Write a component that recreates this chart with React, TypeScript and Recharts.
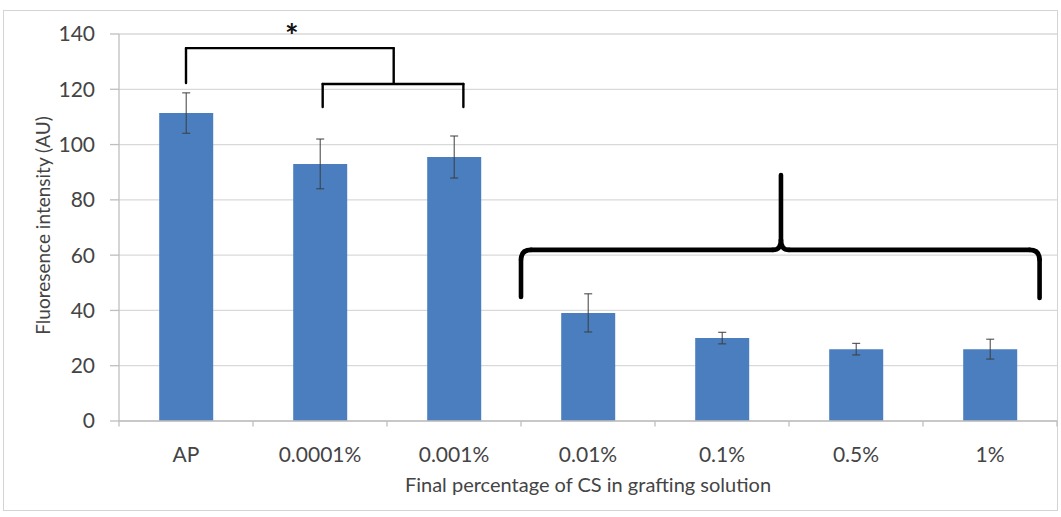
import React from 'react';
import {
  ComposedChart,
  Bar,
  XAxis,
  YAxis,
  CartesianGrid,
  ErrorBar,
  ReferenceLine,
  ReferenceDot,
} from 'recharts';

const categories = ['AP', '0.0001%', '0.001%', '0.01%', '0.1%', '0.5%', '1%'];
const means = [111.4, 93.0, 95.5, 39.1, 30.0, 26.0, 26.0];
const errors = [7.3, 9.0, 7.6, 6.9, 2.1, 2.1, 3.6];
const yTicks = [0, 20, 40, 60, 80, 100, 120, 140];
const boundaryTicks = [-0.5, 0.5, 1.5, 2.5, 3.5, 4.5, 5.5, 6.5];

// significance bracket pieces, in (category index, value) units
const smallBracket: [number, number, number, number][] = [
  [0, 122.3, 0, 134.9],
  [0, 134.9, 1.55, 134.9],
  [1.55, 134.9, 1.55, 122.3],
  [1.02, 113.6, 1.02, 121.9],
  [1.02, 121.9, 2.07, 121.9],
  [2.07, 121.9, 2.07, 113.6],
];
const starPos = { x: 0.79, y: 141 };

// curly brace pieces: kind l = line, vh = vertical then horizontal, hv = horizontal then vertical
const bracePieces: { k: string; p: [number, number, number, number] }[] = [
  { k: 'l', p: [2.5, 44.9, 2.5, 58.3] },
  { k: 'vh', p: [2.5, 58.3, 2.575, 61.9] },
  { k: 'l', p: [2.575, 61.9, 4.38, 61.9] },
  { k: 'hv', p: [4.38, 61.9, 4.44, 65.5] },
  { k: 'l', p: [4.44, 65.5, 4.44, 89.0] },
  { k: 'vh', p: [4.44, 65.5, 4.5, 61.9] },
  { k: 'l', p: [4.5, 61.9, 6.295, 61.9] },
  { k: 'hv', p: [6.295, 61.9, 6.37, 58.3] },
  { k: 'l', p: [6.37, 58.3, 6.37, 44.5] },
];

const data = categories.map((name, i) => ({ name, idx: i, value: means[i], err: errors[i] }));

const FONT = 'Lato, "Open Sans", sans-serif';
const TEXT = '#444444';
const BAR = '#4a7ebf';

const curveShape = (kind: string, width: number) => (props: any) => {
  const { x1, y1, x2, y2 } = props;
  let d = `M${x1},${y1} L${x2},${y2}`;
  if (kind === 'vh') d = `M${x1},${y1} Q${x1},${y2} ${x2},${y2}`;
  if (kind === 'hv') d = `M${x1},${y1} Q${x2},${y1} ${x2},${y2}`;
  return <path d={d} fill="none" stroke="#000" strokeWidth={width} strokeLinecap="round" />;
};

export default function App() {
  return (
    <div style={{ position: 'absolute', left: 0, top: 0, width: 1061, height: 517, background: '#fff' }}>
      <div
        style={{
          position: 'absolute',
          left: 3,
          top: 10,
          width: 1055,
          height: 501,
          border: '1px solid #d4d4d4',
          boxSizing: 'border-box',
        }}
      />
      <div style={{ position: 'absolute', left: 0, top: 0 }}>
        <ComposedChart
          width={1061}
          height={517}
          data={data}
          margin={{ top: 34, right: 4, left: 19, bottom: 20 }}
          barCategoryGap="30%"
        >
          <CartesianGrid vertical={false} stroke="#d9d9d9" strokeWidth={1.3} />
          <XAxis
            dataKey="name"
            interval={0}
            height={76}
            axisLine={{ stroke: '#bfbfbf', strokeWidth: 1.3 }}
            tickLine={false}
            tickSize={0}
            tickMargin={26}
            tick={{ fill: TEXT, fontSize: 21, fontFamily: FONT }}
            label={(p: any) => {
              const vb = p.viewBox || {};
              return (
                <text
                  x={vb.x + vb.width / 2}
                  y={vb.y + 71}
                  textAnchor="middle"
                  fill={TEXT}
                  fontSize={20}
                  fontFamily={FONT}
                >
                  Final percentage of CS in grafting solution
                </text>
              );
            }}
          />
          <XAxis xAxisId="n" dataKey="idx" type="number" domain={[-0.5, 6.5]} allowDataOverflow hide />
          <YAxis
            width={100}
            domain={[0, 140]}
            ticks={yTicks}
            interval={0}
            axisLine={{ stroke: '#bfbfbf', strokeWidth: 1.3 }}
            tickLine={{ stroke: '#bfbfbf', strokeWidth: 1.3 }}
            tickSize={9}
            tickMargin={15}
            tick={{ fill: TEXT, fontSize: 21, fontFamily: FONT }}
            label={(p: any) => {
              const vb = p.viewBox || {};
              const cx = vb.x + 23;
              const cy = vb.y + vb.height / 2 - 2;
              return (
                <text
                  x={cx}
                  y={cy}
                  transform={`rotate(-90, ${cx}, ${cy})`}
                  textAnchor="middle"
                  dominantBaseline="central"
                  fill={TEXT}
                  fontSize={19}
                  fontFamily={FONT}
                >
                  Fluoresence intensity (AU)
                </text>
              );
            }}
          />
          <Bar dataKey="value" fill={BAR} isAnimationActive={false}>
            <ErrorBar dataKey="err" width={4} stroke="#3d3d3d" strokeWidth={1} direction="y" />
          </Bar>
          {boundaryTicks.map((t) => (
            <ReferenceLine
              key={`bt${t}`}
              xAxisId="n"
              segment={[
                { x: t, y: 0 },
                { x: t, y: -2 },
              ]}
              stroke="#bfbfbf"
              strokeWidth={1.3}
              ifOverflow="visible"
            />
          ))}
          {smallBracket.map((s, i) => (
            <ReferenceLine
              key={`sb${i}`}
              xAxisId="n"
              segment={[
                { x: s[0], y: s[1] },
                { x: s[2], y: s[3] },
              ]}
              ifOverflow="visible"
              shape={curveShape('l', 2.4)}
            />
          ))}
          {bracePieces.map((b, i) => (
            <ReferenceLine
              key={`br${i}`}
              xAxisId="n"
              segment={[
                { x: b.p[0], y: b.p[1] },
                { x: b.p[2], y: b.p[3] },
              ]}
              ifOverflow="visible"
              shape={curveShape(b.k, 4.6)}
            />
          ))}
          <ReferenceDot
            xAxisId="n"
            x={starPos.x}
            y={starPos.y}
            ifOverflow="visible"
            shape={(p: any) => (
              <text
                x={p.cx}
                y={p.cy + 17}
                textAnchor="middle"
                fontSize={32}
                fontWeight="bold"
                fontFamily={FONT}
                fill="#111"
              >
                *
              </text>
            )}
          />
        </ComposedChart>
      </div>
    </div>
  );
}
